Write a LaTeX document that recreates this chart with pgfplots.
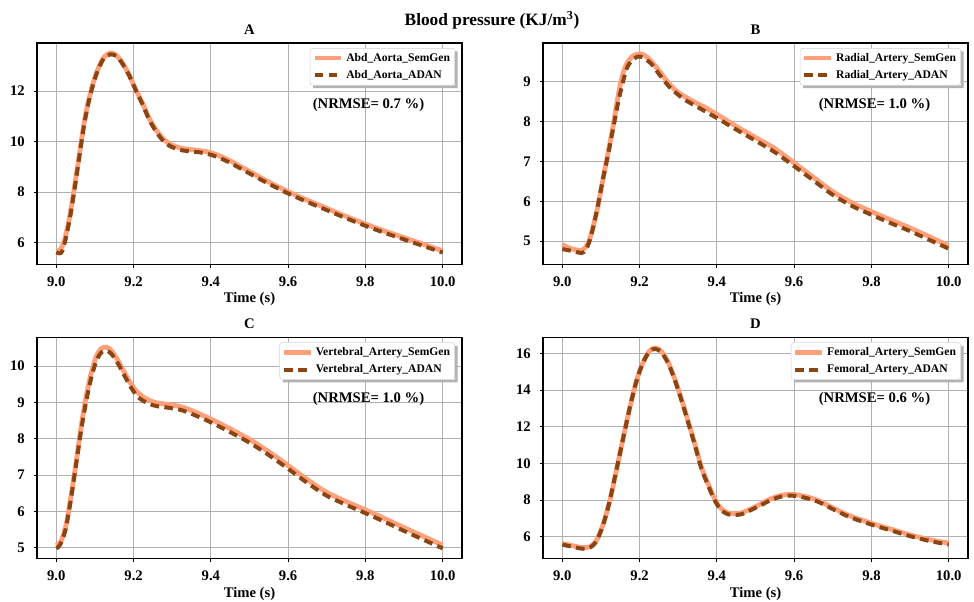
\documentclass[border=0pt]{standalone}
\usepackage{fontspec}
\setmainfont{Liberation Serif}
\usepackage{pgfplots}
\pgfplotsset{compat=1.18}
\definecolor{semgenc}{RGB}{255,160,122}
\definecolor{adanc}{RGB}{139,69,19}
\definecolor{gridgray}{RGB}{176,176,176}

\pgfplotsset{
  panel/.style={
    scale only axis, width=318.75pt, height=165.9pt,
    anchor=north west,
    xmin=8.95, xmax=10.05,
    xtick={9,9.2,9.4,9.6,9.8,10}, xticklabels={9.0,9.2,9.4,9.6,9.8,10.0},
    xtick pos=bottom, ytick pos=left, tick align=outside,
    major tick length=2.6pt,
    tick style={black, line width=0.6pt},
    grid=major, major grid style={gridgray, line width=0.6pt},
    axis line style={line width=0.9pt},
    tick label style={font=\bfseries\fontsize{11}{13}\selectfont},
    /pgf/number format/assume math mode=true,
    xticklabel shift=3pt, yticklabel shift=3pt,
    xlabel={Time (s)},
    xlabel style={font=\bfseries\fontsize{11}{13}\selectfont, at={(0.5,0)},
      anchor=base, yshift=-29pt},
    every axis title shift=0pt,
    title style={font=\bfseries\fontsize{11}{13}\selectfont, at={(0.5,1)},
      anchor=base, yshift=6.75pt},
    legend cell align=left,
    legend style={at={(0.9835,0.977)}, anchor=north east,
      font=\bfseries\fontsize{8.7}{10}\selectfont,
      draw=gray!35, fill=white, rounded corners=2pt,
      row sep=1.5pt, inner sep=1.5pt,
      append after command={\pgfextra{%
        \fill[gray!60, rounded corners=0pt]
          ([yshift=-2.5pt]\tikzlastnode.north east) -- ++(2pt,0)
          -- ([xshift=2pt,yshift=-2pt]\tikzlastnode.south east)
          -- ([xshift=2.5pt,yshift=-2pt]\tikzlastnode.south west)
          -- ([xshift=2.5pt]\tikzlastnode.south west)
          -- (\tikzlastnode.south east) -- cycle;}}},
    legend image code/.code={\draw[#1] (0pt,0pt) -- (20pt,0pt);},
  },
  sgline/.style={semgenc, line width=3.6pt, smooth, tension=0.5},
  adline/.style={adanc, line width=3pt, dash pattern=on 6.5pt off 4pt, smooth, tension=0.5},
}
\newcommand{\nrmse}[1]{\node[font=\bfseries\fontsize{11}{13}\selectfont]
  at (rel axis cs:0.78,0.72) {(NRMSE= #1 \%)};}

\begin{document}
\begin{tikzpicture}
\useasboundingbox (0,0) rectangle (730.5pt,-450.75pt);

\node[font=\bfseries\fontsize{13}{15}\selectfont, anchor=base] at (369pt,-19.3pt)
  {Blood pressure (KJ/m\textsuperscript{3})};

% A
\begin{axis}[panel, at={(27.75pt,-32.25pt)}, ymin=5.15, ymax=13.9,
  ytick={6,8,10,12}, title={A}]
\addplot[sgline] coordinates {(9.000,5.68)(9.010,5.72)(9.021,6.10)(9.034,7.00)(9.047,8.20)(9.060,9.52)(9.073,10.84)(9.086,11.78)(9.099,12.50)(9.112,13.02)(9.124,13.35)(9.139,13.50)(9.155,13.42)(9.172,13.09)(9.189,12.63)(9.206,12.04)(9.223,11.52)(9.240,10.93)(9.258,10.47)(9.275,10.14)(9.292,9.92)(9.318,9.76)(9.343,9.69)(9.369,9.65)(9.395,9.58)(9.420,9.45)(9.450,9.24)(9.500,8.82)(9.550,8.40)(9.600,8.02)(9.650,7.68)(9.700,7.36)(9.750,7.04)(9.800,6.74)(9.850,6.46)(9.900,6.20)(9.950,5.94)(10.000,5.68)};
\addlegendentry{Abd\_Aorta\_SemGen}
\addplot[adline] coordinates {(9.000,5.62)(9.008,5.58)(9.015,5.66)(9.025,6.20)(9.036,7.05)(9.048,8.20)(9.060,9.45)(9.073,10.75)(9.086,11.72)(9.099,12.45)(9.112,12.98)(9.124,13.30)(9.140,13.45)(9.156,13.38)(9.172,13.06)(9.189,12.60)(9.206,12.02)(9.223,11.48)(9.240,10.88)(9.258,10.40)(9.275,10.06)(9.292,9.84)(9.318,9.68)(9.343,9.62)(9.369,9.58)(9.395,9.50)(9.420,9.37)(9.450,9.16)(9.500,8.74)(9.550,8.33)(9.600,7.95)(9.650,7.61)(9.700,7.29)(9.750,6.97)(9.800,6.67)(9.850,6.39)(9.900,6.13)(9.950,5.87)(10.000,5.61)};
\addlegendentry{Abd\_Aorta\_ADAN}
\nrmse{0.7}
\end{axis}

% B
\begin{axis}[panel, at={(407.25pt,-32.25pt)}, ymin=4.42, ymax=9.97,
  ytick={5,6,7,8,9}, title={B}]
\addplot[sgline] coordinates {(9.000,4.91)(9.020,4.82)(9.041,4.77)(9.054,4.79)(9.067,4.95)(9.079,5.33)(9.092,5.87)(9.105,6.54)(9.118,7.20)(9.131,7.87)(9.141,8.45)(9.152,9.02)(9.165,9.42)(9.182,9.64)(9.202,9.70)(9.220,9.61)(9.246,9.33)(9.272,9.00)(9.297,8.75)(9.332,8.54)(9.366,8.37)(9.400,8.18)(9.450,7.88)(9.500,7.60)(9.550,7.32)(9.600,6.96)(9.650,6.60)(9.700,6.24)(9.750,5.96)(9.800,5.74)(9.850,5.53)(9.900,5.33)(9.950,5.11)(10.000,4.88)};
\addlegendentry{Radial\_Artery\_SemGen}
\addplot[adline] coordinates {(9.000,4.80)(9.032,4.74)(9.050,4.70)(9.062,4.80)(9.075,5.15)(9.090,5.80)(9.105,6.55)(9.120,7.25)(9.133,7.90)(9.145,8.50)(9.157,9.00)(9.169,9.38)(9.186,9.58)(9.202,9.63)(9.229,9.46)(9.255,9.13)(9.280,8.84)(9.315,8.56)(9.349,8.37)(9.396,8.11)(9.450,7.80)(9.500,7.52)(9.550,7.23)(9.600,6.88)(9.650,6.52)(9.700,6.16)(9.750,5.88)(9.800,5.66)(9.850,5.45)(9.900,5.25)(9.950,5.03)(10.000,4.81)};
\addlegendentry{Radial\_Artery\_ADAN}
\nrmse{1.0}
\end{axis}

% C
\begin{axis}[panel, at={(27.75pt,-253pt)}, ymin=4.70, ymax=10.79,
  ytick={5,6,7,8,9,10}, title={C}]
\addplot[sgline] coordinates {(9.000,5.06)(9.013,5.20)(9.026,5.66)(9.039,6.49)(9.052,7.40)(9.064,8.32)(9.077,9.15)(9.090,9.79)(9.103,10.25)(9.116,10.48)(9.129,10.52)(9.142,10.43)(9.159,10.16)(9.176,9.83)(9.193,9.51)(9.210,9.28)(9.232,9.10)(9.258,8.99)(9.292,8.94)(9.326,8.87)(9.360,8.73)(9.400,8.54)(9.450,8.27)(9.500,7.98)(9.550,7.64)(9.600,7.26)(9.650,6.87)(9.700,6.52)(9.750,6.27)(9.800,6.04)(9.850,5.80)(9.900,5.55)(9.950,5.31)(10.000,5.07)};
\addlegendentry{Vertebral\_Artery\_SemGen}
\addplot[adline] coordinates {(9.000,4.98)(9.010,5.08)(9.024,5.50)(9.038,6.35)(9.051,7.28)(9.064,8.22)(9.078,9.06)(9.091,9.70)(9.104,10.15)(9.117,10.38)(9.130,10.42)(9.143,10.33)(9.160,10.06)(9.177,9.72)(9.194,9.40)(9.210,9.16)(9.232,9.00)(9.258,8.90)(9.292,8.85)(9.326,8.78)(9.360,8.64)(9.400,8.45)(9.450,8.18)(9.500,7.89)(9.550,7.55)(9.600,7.17)(9.650,6.78)(9.700,6.43)(9.750,6.18)(9.800,5.95)(9.850,5.71)(9.900,5.46)(9.950,5.22)(10.000,4.98)};
\addlegendentry{Vertebral\_Artery\_ADAN}
\nrmse{1.0}
\end{axis}

% D
\begin{axis}[panel, at={(407.25pt,-253pt)}, ymin=4.82, ymax=16.87,
  ytick={6,8,10,12,14,16}, title={D}]
\addplot[sgline] coordinates {(9.000,5.64)(9.024,5.53)(9.050,5.42)(9.071,5.46)(9.089,5.82)(9.106,6.72)(9.123,7.99)(9.140,9.62)(9.157,11.34)(9.175,13.07)(9.192,14.51)(9.209,15.51)(9.226,16.14)(9.241,16.29)(9.256,16.11)(9.274,15.51)(9.291,14.60)(9.308,13.52)(9.325,12.34)(9.343,11.07)(9.360,9.80)(9.377,8.90)(9.394,8.08)(9.411,7.54)(9.429,7.30)(9.446,7.27)(9.463,7.30)(9.489,7.54)(9.515,7.81)(9.540,8.08)(9.566,8.26)(9.592,8.32)(9.618,8.25)(9.659,8.01)(9.702,7.56)(9.745,7.14)(9.800,6.74)(9.857,6.38)(9.900,6.11)(9.952,5.84)(10.000,5.66)};
\addlegendentry{Femoral\_Artery\_SemGen}
\addplot[adline] coordinates {(9.000,5.58)(9.024,5.47)(9.050,5.36)(9.068,5.38)(9.086,5.70)(9.104,6.55)(9.121,7.82)(9.138,9.45)(9.156,11.22)(9.174,12.98)(9.191,14.42)(9.208,15.45)(9.225,16.08)(9.240,16.24)(9.256,16.06)(9.274,15.46)(9.291,14.55)(9.308,13.47)(9.325,12.28)(9.343,11.00)(9.360,9.72)(9.377,8.82)(9.394,8.00)(9.411,7.46)(9.429,7.23)(9.446,7.20)(9.463,7.23)(9.489,7.47)(9.515,7.74)(9.540,8.01)(9.566,8.19)(9.592,8.25)(9.618,8.18)(9.659,7.94)(9.702,7.49)(9.745,7.07)(9.800,6.67)(9.857,6.31)(9.900,6.04)(9.952,5.77)(10.000,5.58)};
\addlegendentry{Femoral\_Artery\_ADAN}
\nrmse{0.6}
\end{axis}
\end{tikzpicture}
\end{document}
